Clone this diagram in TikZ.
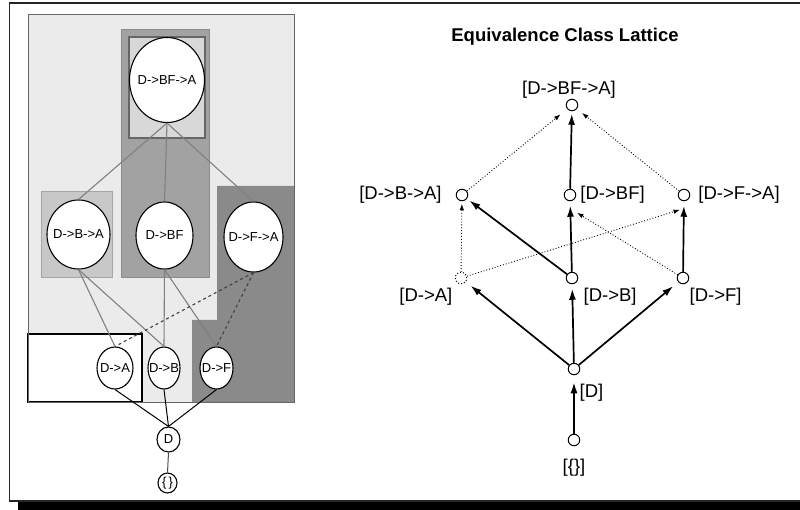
\documentclass[tikz,border=0pt]{standalone}
\usepackage{fontspec}
\setmainfont{Liberation Sans}
\usetikzlibrary{arrows.meta,positioning,shapes.geometric}
\definecolor{panelgray}{HTML}{EBEBEB}
\definecolor{colgray}{HTML}{A2A2A2}
\definecolor{topgray}{HTML}{D8D8D8}
\definecolor{boxgray}{HTML}{C8C8C8}
\definecolor{darkgray}{HTML}{8A8A8A}
\newcommand{\tlab}[1]{\makebox[0pt]{#1}}

\begin{document}
\begin{tikzpicture}[x=1pt, y=-1pt, tnode/.style={ellipse, draw, fill=white, line width=1.1pt, inner sep=0pt, font=\fontsize{13}{14}\selectfont}, lnode/.style={circle, draw, fill=white, line width=1pt, minimum size=11.5pt, inner sep=0pt}, lbl/.style={inner sep=0pt, font=\fontsize{18.5}{20}\selectfont}, tline/.style={draw=black!50, line width=1.1pt}, arrow/.style={-{Latex[length=11pt,width=7pt]}, line width=1.7pt}, dotarrow/.style={-{Latex[length=6.5pt,width=4.5pt]}, line width=0.9pt, dotted}]
\useasboundingbox (0,0) rectangle (800,510);
% frame
\fill (18,502) rectangle (810,515);
\draw[line width=1.3pt, black!85] (9.5,3) rectangle (810,501);
% shaded regions
\draw[black!60, fill=panelgray] (28,14) rectangle (294,402);
\draw[black!45, fill=colgray] (121,29) rectangle (209,277);
\draw[black!60, line width=1.2pt, fill=topgray] (129,37) rectangle (205,138);
\draw[black!35, fill=boxgray] (41,191) rectangle (112,277);
\fill[darkgray] (217,186) -- (294,186) -- (294,402) -- (192,402) -- (192,320) -- (217,320) -- cycle;
\draw[line width=1.1pt, fill=white] (28,334) rectangle (142,402);
\draw[black!60] (28,14) rectangle (294,402);
% tree nodes
\node[tnode, minimum width=75pt, minimum height=85pt] (tbfa) at (167,80) {\tlab{D->BF->A}};
\node[tnode, minimum width=63pt, minimum height=69pt] (tba) at (78.5,234.5) {\tlab{D->B->A}};
\node[tnode, minimum width=57pt, minimum height=67pt] (tbf) at (164.5,235.5) {\tlab{D->BF}};
\node[tnode, minimum width=59pt, minimum height=70pt] (tfa) at (253.5,237) {\tlab{D->F->A}};
\node[tnode, minimum width=36pt, minimum height=42pt] (ta) at (115,368) {\tlab{D->A}};
\node[tnode, minimum width=32pt, minimum height=42pt] (tb) at (164,368) {\tlab{D->B}};
\node[tnode, minimum width=33pt, minimum height=42pt] (tf) at (216.5,368) {\tlab{D->F}};
\node[tnode, minimum width=23pt, minimum height=25pt] (td) at (168.5,439.5) {\tlab{D}};
\node[tnode, minimum width=19pt, minimum height=20pt] (te) at (167.5,483) {\tlab{\{\,\}}};
% tree lines
\draw[tline] (tbfa.south) -- (tba.north);
\draw[tline] (tbfa.south) -- (tbf.north);
\draw[tline] (tbfa.south) -- (tfa.north);
\draw[tline] (tba.south) -- (ta.north);
\draw[tline] (tba.south) -- (tb.north);
\draw[tline] (tbf.south) -- (tb.north);
\draw[tline] (tbf.south) -- (tf.north);
\draw[tline, black!75, dashed] (tfa.south) -- (ta.north);
\draw[tline, black!75, dashed] (tfa.south) -- (tf.north);
\draw[line width=1pt] (ta.south) -- (td.north);
\draw[line width=1pt] (tb.south) -- (td.north);
\draw[line width=1pt] (tf.south) -- (td.north);
\draw[line width=1pt, black!70] (td.south) -- (te.north);
% lattice
\node[font=\bfseries\fontsize{18.5}{20}\selectfont] (title) at (565,37) {Equivalence Class Lattice};
\node[lnode] (lbfa) at (572,105) {};
\node[lnode] (lba) at (462,195) {};
\node[lnode] (lbf) at (570,195) {};
\node[lnode] (lfa) at (684,195) {};
\node[lnode, dotted] (la) at (461,278) {};
\node[lnode] (lb) at (572,278) {};
\node[lnode] (lf) at (683,278) {};
\node[lnode] (ld) at (574,369) {};
\node[lnode] (le) at (574,440) {};
\node[lbl, above=0.5pt of lbfa, xshift=-3pt] (nbfa) {[D->BF->A]};
\node[lbl, left=14pt of lba] (nba) {[D->B->A]};
\node[lbl, right=4pt of lbf] (nbf) {[D->BF]};
\node[lbl, right=8pt of lfa] (nfa) {[D->F->A]};
\node[lbl, below left=5pt and 4pt of la] (na) {[D->A]};
\node[lbl, below right=5pt and 7pt of lb] (nb) {[D->B]};
\node[lbl, below right=5pt and 2pt of lf] (nf) {[D->F]};
\node[lbl, below right=10pt and 1pt of ld] (nd) {[D]};
\node[lbl, below=13pt of le] (ne) {[\{\}]};
\draw[arrow, shorten >=7pt] (le) -- (ld);
\draw[arrow, shorten >=6pt] (ld) -- (la);
\draw[arrow, shorten >=4.5pt] (ld) -- (lb);
\draw[arrow, shorten >=6.5pt] (ld) -- (lf);
\draw[arrow, shorten >=3pt] (lb) -- (lba);
\draw[arrow, shorten >=4.5pt] (lb) -- (lbf);
\draw[arrow, shorten >=4.5pt] (lf) -- (lfa);
\draw[arrow, shorten >=2.5pt] (lbf) -- (lbfa);
\draw[dotarrow, shorten >=8.5pt] (lba) -- (lbfa);
\draw[dotarrow, shorten >=6.5pt] (lfa) -- (lbfa);
\draw[dotarrow, shorten >=2.5pt] (la) -- (lba);
\draw[dotarrow] (la) -- ([xshift=-4pt, yshift=-8.5pt]lfa.south);
\draw[dotarrow] (lf) -- ([xshift=7pt, yshift=-11.5pt]lbf.south);
\end{tikzpicture}
\end{document}
